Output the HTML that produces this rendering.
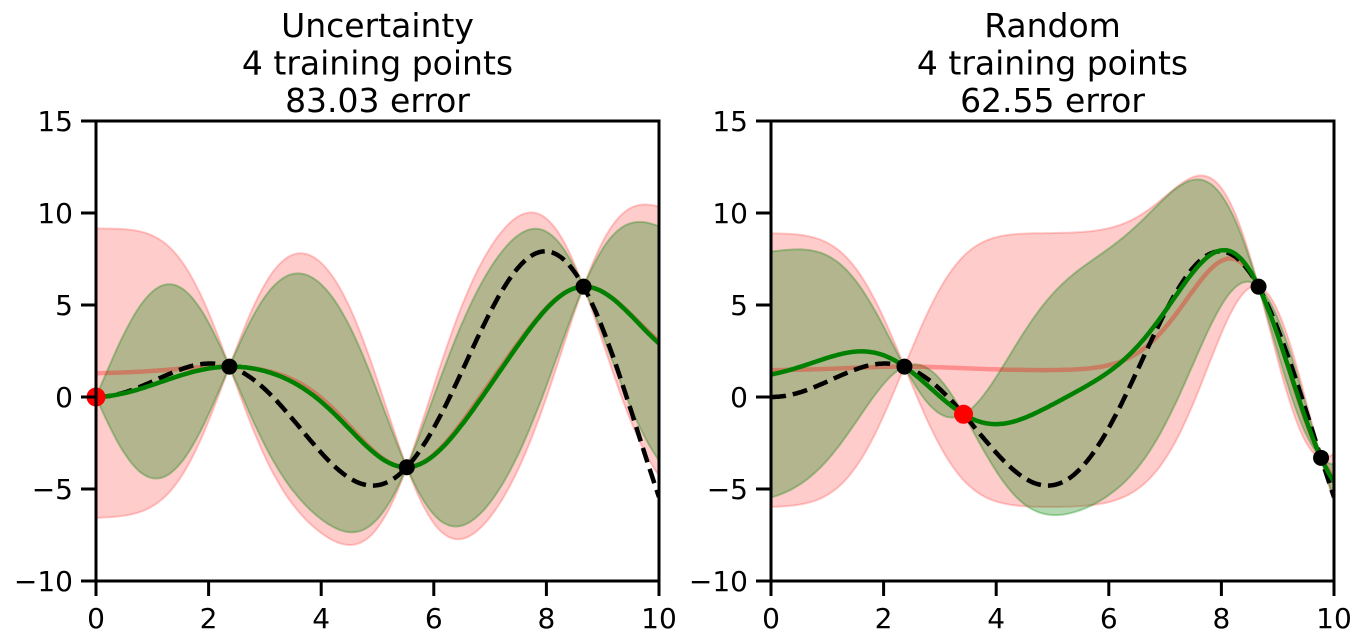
<!DOCTYPE html>
<html><head><meta charset="utf-8"><style>
html,body{margin:0;padding:0;background:#fff;}
svg{display:block;font-family:"DejaVu Sans","Liberation Sans",sans-serif;}
</style></head><body>
<svg id="s" width="1365" height="643" viewBox="0 0 1365 643"></svg>
<script>
const f=x=>x*Math.sin(x);
function gp(X,ls,xs){
  const y=X.map(f),n=X.length;
  const m=y.reduce((a,b)=>a+b)/n;
  const sd=Math.sqrt(y.reduce((a,b)=>a+(b-m)*(b-m),0)/n);
  const yn=y.map(v=>(v-m)/sd);
  const k=(a,b)=>Math.exp(-(a-b)*(a-b)/(2*ls*ls));
  const K=[];for(let i=0;i<n;i++){K.push([]);for(let j=0;j<n;j++)K[i].push(k(X[i],X[j])+(i==j?1e-6:0));}
  const A=K.map((r,i)=>r.concat(X.map((_,j)=>i==j?1:0)));
  for(let i=0;i<n;i++){let p=A[i][i];for(let j=0;j<2*n;j++)A[i][j]/=p;
    for(let r=0;r<n;r++)if(r!=i){let c=A[r][i];for(let j=0;j<2*n;j++)A[r][j]-=c*A[i][j];}}
  const Ki=A.map(r=>r.slice(n));
  const al=Ki.map(r=>r.reduce((s,v,j)=>s+v*yn[j],0));
  return xs.map(x=>{const ks=X.map(a=>k(x,a));
    let mu=ks.reduce((s,v,j)=>s+v*al[j],0);
    let v=1;for(let i=0;i<n;i++)for(let j=0;j<n;j++)v-=ks[i]*Ki[i][j]*ks[j];
    v=Math.max(v,0);return [mu*sd+m,Math.sqrt(v)*sd];});
}
const xs=[];for(let i=0;i<=400;i++)xs.push(i*10/400);
let out='';
function panel(x0,title,Xg,Xr,lg,lr,redpt){
  const X=x=>x0+x*56.3, Y=y=>397-y*18.4;
  const g=gp(Xg,lg,xs), r=gp(Xr,lr,xs);
  const band=(d,col,op)=>{let p='M'+xs.map((x,i)=>X(x).toFixed(1)+','+Y(d[i][0]+1.96*d[i][1]).toFixed(1)).join('L');
    p+='L'+xs.map((x,i)=>[X(x),Y(d[i][0]-1.96*d[i][1])]).reverse().map(a=>a[0].toFixed(1)+','+a[1].toFixed(1)).join('L')+'Z';
    return `<path d="${p}" fill="${col}" fill-opacity="${op}" stroke="${col}" stroke-opacity="${op}" stroke-width="2"/>`;};
  const line=(arr,col,op,extra)=>`<path d="M${xs.map((x,i)=>X(x).toFixed(1)+','+Y(arr[i]).toFixed(1)).join('L')}" fill="none" stroke="${col}" stroke-opacity="${op}" stroke-width="4.5" ${extra||''}/>`;
  out+=`<clipPath id="c${x0}"><rect x="${x0}" y="121" width="563" height="460"/></clipPath><g clip-path="url(#c${x0})">`;
  out+=band(r,'#ff0000',0.2)+band(g,'#008000',0.3);
  out+=line(r.map(a=>a[0]),'#ff0000',0.3);
  out+=line(xs.map(f),'#000',1,'stroke-dasharray="15,7"');
  out+=line(g.map(a=>a[0]),'#008000',1);
  out+=`</g>`;
  Xr.forEach(x=>out+=`<circle cx="${X(x)}" cy="${Y(f(x))}" r="8" fill="#000"/>`);
  out+=`<circle cx="${X(redpt)}" cy="${Y(f(redpt))}" r="9.5" fill="#ff0000"/>`;
  out+=`<rect x="${x0}" y="121" width="563" height="460" fill="none" stroke="#000" stroke-width="3"/>`;
  for(let t=0;t<=10;t+=2){out+=`<line x1="${X(t)}" x2="${X(t)}" y1="581" y2="596" stroke="#000" stroke-width="3"/><text x="${X(t)}" y="628" font-size="28" text-anchor="middle">${t}</text>`;}
  for(let t=-10;t<=15;t+=5){out+=`<line x1="${x0-15}" x2="${x0}" y1="${Y(t)}" y2="${Y(t)}" stroke="#000" stroke-width="3"/><text x="${x0-23}" y="${Y(t)+10}" font-size="28" text-anchor="end">${t<0?'\u2212'+(-t):t}</text>`;}
  const cx=x0+281.5;
  title.forEach((s,i)=>out+=`<text x="${cx}" y="${37+i*37.5}" font-size="33" text-anchor="middle">${s}</text>`);
}
panel(96,['Uncertainty','4 training points','83.03 error'],[0,2.37,5.52,8.66],[2.37,5.52,8.66],0.97,0.95,0);
panel(771,['Random','4 training points','62.55 error'],[2.37,3.42,8.66,9.77],[2.37,8.66,9.77],1.15,1.0,3.42);
document.getElementById('s').innerHTML=out;
</script>
</body></html>
